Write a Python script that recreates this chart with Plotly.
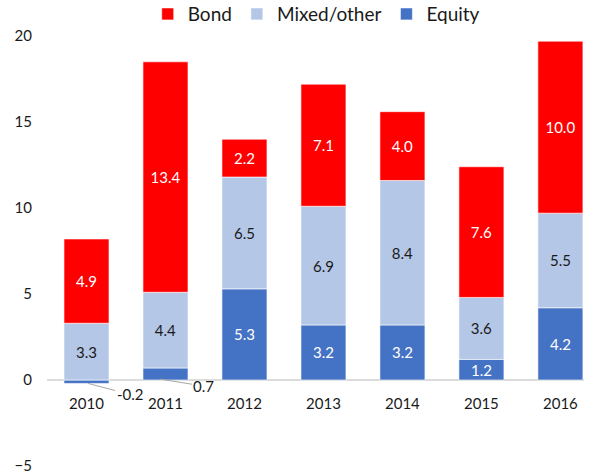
import plotly.graph_objects as go

years = ['2010', '2011', '2012', '2013', '2014', '2015', '2016']
equity = [-0.2, 0.7, 5.3, 3.2, 3.2, 1.2, 4.2]
mixed = [3.3, 4.4, 6.5, 6.9, 8.4, 3.6, 5.5]
bond = [4.9, 13.4, 2.2, 7.1, 4.0, 7.6, 10.0]

# small equity values are labelled outside with leader lines
equity_txt = ['' if abs(v) < 1 else f'{v:.1f}' for v in equity]

FONT = 'Lato, Noto Sans, sans-serif'
edge = dict(color='rgba(255,255,255,0.6)', width=1)

fig = go.Figure()
fig.add_trace(go.Bar(x=years, y=equity, name='Equity', marker=dict(color='#4472C4', line=edge),
                     text=equity_txt, textposition='inside', insidetextanchor='middle',
                     textfont=dict(color='white', size=15), textangle=0))
fig.add_trace(go.Bar(x=years, y=mixed, name='Mixed/other', marker=dict(color='#B4C7E7', line=edge),
                     text=[f'{v:.1f}' for v in mixed], textposition='inside', insidetextanchor='middle',
                     textfont=dict(color='#1a1a1a', size=15), textangle=0))
fig.add_trace(go.Bar(x=years, y=bond, name='Bond', marker=dict(color='#FF0000', line=edge),
                     text=[f'{v:.1f}' for v in bond], textposition='inside', insidetextanchor='middle',
                     textfont=dict(color='white', size=15), textangle=0))

# zero line
fig.add_shape(type='line', xref='x', yref='y', x0=-0.5, x1=6.3, y0=0, y1=0,
              line=dict(color='#d0d0d0', width=1.5), layer='below')

# outside labels (category index used for x)
fig.add_annotation(x=0.02, y=equity[0], xref='x', yref='y', text=f'{equity[0]:.1f}',
                   showarrow=True, arrowhead=0, arrowcolor='#a6a6a6', arrowwidth=1,
                   ax=42, ay=11, font=dict(size=15, color='#1a1a1a'))
fig.add_annotation(x=0.93, y=0.05, xref='x', yref='y', text=f'{equity[1]:.1f}',
                   showarrow=True, arrowhead=0, arrowcolor='#a6a6a6', arrowwidth=1,
                   ax=44, ay=7, font=dict(size=15, color='#1a1a1a'))

fig.update_layout(
    width=592, height=473,
    barmode='relative', bargap=0.43,
    plot_bgcolor='white', paper_bgcolor='white',
    font=dict(family=FONT, size=15, color='#1a1a1a'),
    margin=dict(l=47, r=0, t=36, b=7, autoexpand=False),
    uniformtext=dict(minsize=15, mode='show'),
    legend=dict(orientation='h', x=0.494, xanchor='center', y=1.051, yanchor='middle',
                traceorder='reversed', font=dict(size=19), itemwidth=30),
    xaxis=dict(type='category', range=[-0.5, 6.4], anchor='free', position=0.2, showline=False,
               ticks='', showgrid=False, tickfont=dict(size=15), ticklabelstandoff=13,
               automargin=False),
    yaxis=dict(range=[-5, 20], dtick=5, showgrid=False, zeroline=False, showline=False,
               tickfont=dict(size=15), ticklabelstandoff=14, automargin=False,
               ticklabeloverflow='allow'),
)

# drop the default 8px body margin so the figure fills the window
fig.write_html('out.html', config={'displayModeBar': False},
               post_script="document.body.style.margin='0';")
